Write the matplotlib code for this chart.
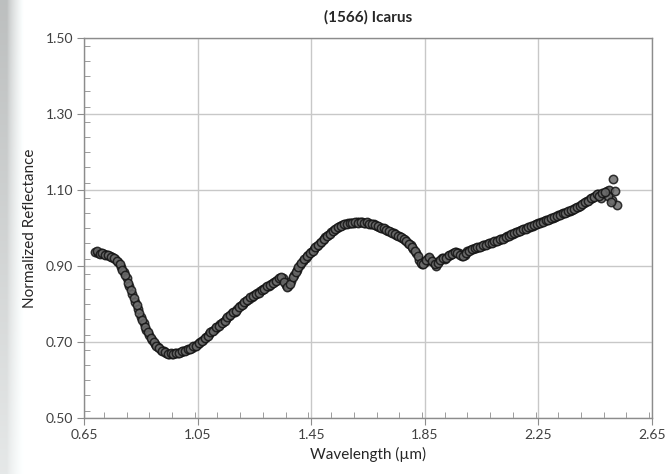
import matplotlib
matplotlib.use("Agg")
import matplotlib.pyplot as plt
import numpy as np
from matplotlib.ticker import MultipleLocator

plt.rcParams['font.family'] = ['Lato', 'DejaVu Sans']

# spectrum samples, on two interleaved grids
wavelength_a = [
    0.69, 0.70, 0.71, 0.72, 0.73, 0.74, 0.75, 0.76, 0.77, 0.78,
    0.79, 0.80, 0.81, 0.82, 0.83, 0.84, 0.85, 0.86, 0.87, 0.88,
    0.89, 0.90, 0.91, 0.92, 0.93, 0.94, 0.95, 0.96, 0.97, 0.98,
    0.99, 1.00, 1.01, 1.02, 1.03, 1.04, 1.05, 1.06, 1.07, 1.08,
    1.09, 1.10, 1.11, 1.12, 1.13, 1.14, 1.15, 1.16, 1.17, 1.18,
    1.19, 1.20, 1.21, 1.22, 1.23, 1.24, 1.25, 1.26, 1.27, 1.28,
    1.29, 1.30, 1.31, 1.32, 1.33, 1.34, 1.35, 1.36, 1.37, 1.38,
    1.39, 1.40, 1.41, 1.42, 1.43, 1.44, 1.45, 1.46, 1.47, 1.48,
    1.49, 1.50, 1.51, 1.52, 1.53, 1.54, 1.55, 1.56, 1.57, 1.58,
    1.59, 1.60, 1.61, 1.62, 1.63, 1.64, 1.65, 1.66, 1.67, 1.68,
    1.69, 1.70, 1.71, 1.72, 1.73, 1.74, 1.75, 1.76, 1.77, 1.78,
    1.79, 1.80, 1.81, 1.82, 1.83, 1.84, 1.85, 1.86, 1.87, 1.88,
    1.89, 1.90, 1.91, 1.92, 1.93, 1.94, 1.95, 1.96, 1.97, 1.98,
    1.99, 2.00, 2.01, 2.02, 2.03, 2.04, 2.05, 2.06, 2.07, 2.08,
    2.09, 2.10, 2.11, 2.12, 2.13, 2.14, 2.15, 2.16, 2.17, 2.18,
    2.19, 2.20, 2.21, 2.22, 2.23, 2.24, 2.25, 2.26, 2.27, 2.28,
    2.29, 2.30, 2.31, 2.32, 2.33, 2.34, 2.35, 2.36, 2.37, 2.38,
    2.39, 2.40, 2.41, 2.42, 2.43, 2.44, 2.45, 2.46, 2.47, 2.48,
    2.49, 2.50, 2.51, 2.52, 2.514, 2.525, 2.495, 2.505,
]
reflectance_a = [
    0.938, 0.936, 0.934, 0.932, 0.930, 0.928, 0.925, 0.918, 0.910, 0.898,
    0.884, 0.868, 0.847, 0.827, 0.807, 0.787, 0.767, 0.750, 0.733, 0.719,
    0.706, 0.696, 0.688, 0.681, 0.676, 0.672, 0.670, 0.669, 0.671, 0.672,
    0.674, 0.677, 0.679, 0.682, 0.686, 0.690, 0.695, 0.701, 0.707, 0.714,
    0.722, 0.729, 0.735, 0.741, 0.748, 0.754, 0.762, 0.769, 0.776, 0.781,
    0.788, 0.795, 0.802, 0.808, 0.814, 0.820, 0.824, 0.829, 0.834, 0.839,
    0.845, 0.849, 0.853, 0.859, 0.865, 0.869, 0.868, 0.851, 0.847, 0.862,
    0.878, 0.890, 0.903, 0.915, 0.923, 0.931, 0.938, 0.946, 0.953, 0.960,
    0.968, 0.976, 0.983, 0.990, 0.996, 1.001, 1.006, 1.009, 1.011, 1.013,
    1.014, 1.015, 1.016, 1.016, 1.016, 1.015, 1.014, 1.012, 1.010, 1.007,
    1.004, 1.001, 0.997, 0.993, 0.990, 0.987, 0.983, 0.979, 0.975, 0.969,
    0.962, 0.955, 0.945, 0.934, 0.917, 0.905, 0.911, 0.922, 0.919, 0.910,
    0.902, 0.913, 0.922, 0.920, 0.926, 0.931, 0.935, 0.938, 0.934, 0.928,
    0.930, 0.939, 0.944, 0.946, 0.949, 0.951, 0.954, 0.957, 0.959, 0.962,
    0.964, 0.966, 0.969, 0.972, 0.975, 0.979, 0.983, 0.986, 0.989, 0.992,
    0.995, 0.998, 1.001, 1.004, 1.007, 1.010, 1.013, 1.016, 1.019, 1.022,
    1.025, 1.028, 1.031, 1.034, 1.037, 1.040, 1.043, 1.046, 1.049, 1.053,
    1.057, 1.061, 1.066, 1.071, 1.076, 1.081, 1.086, 1.090, 1.080, 1.093,
    1.097, 1.101, 1.074, 1.099, 1.129, 1.061, 1.085, 1.068,
]

wavelength_b = [
    0.695, 0.705, 0.715, 0.725, 0.735, 0.745, 0.755, 0.765, 0.775, 0.785,
    0.795, 0.805, 0.815, 0.825, 0.835, 0.845, 0.855, 0.865, 0.875, 0.885,
    0.895, 0.905, 0.915, 0.925, 0.935, 0.945, 0.955, 0.965, 0.975, 0.985,
    0.995, 1.005, 1.015, 1.025, 1.035, 1.045, 1.055, 1.065, 1.075, 1.085,
    1.095, 1.105, 1.115, 1.125, 1.135, 1.145, 1.155, 1.165, 1.175, 1.185,
    1.195, 1.205, 1.215, 1.225, 1.235, 1.245, 1.255, 1.265, 1.275, 1.285,
    1.295, 1.305, 1.315, 1.325, 1.335, 1.345, 1.355, 1.365, 1.375, 1.385,
    1.395, 1.405, 1.415, 1.425, 1.435, 1.445, 1.455, 1.465, 1.475, 1.485,
    1.495, 1.505, 1.515, 1.525, 1.535, 1.545, 1.555, 1.565, 1.575, 1.585,
    1.595, 1.605, 1.615, 1.625, 1.635, 1.645, 1.655, 1.665, 1.675, 1.685,
    1.695, 1.705, 1.715, 1.725, 1.735, 1.745, 1.755, 1.765, 1.775, 1.785,
    1.795, 1.805, 1.815, 1.825, 1.835, 1.845, 1.855, 1.865, 1.875, 1.885,
    1.895, 1.905, 1.915, 1.925, 1.935, 1.945, 1.955, 1.965, 1.975, 1.985,
    1.995, 2.005, 2.015, 2.025, 2.035, 2.045, 2.055, 2.065, 2.075, 2.085,
    2.095, 2.105, 2.115, 2.125, 2.135, 2.145, 2.155, 2.165, 2.175, 2.185,
    2.195, 2.205, 2.215, 2.225, 2.235, 2.245, 2.255, 2.265, 2.275, 2.285,
    2.295, 2.305, 2.315, 2.325, 2.335, 2.345, 2.355, 2.365, 2.375, 2.385,
    2.395, 2.405, 2.415, 2.425, 2.435, 2.445, 2.455, 2.465, 2.475, 2.485,
]
reflectance_b = [
    0.939, 0.933, 0.935, 0.929, 0.931, 0.925, 0.923, 0.913, 0.905, 0.890,
    0.877, 0.857, 0.838, 0.816, 0.798, 0.776, 0.759, 0.740, 0.727, 0.711,
    0.702, 0.691, 0.685, 0.677, 0.675, 0.670, 0.672, 0.668, 0.673, 0.671,
    0.676, 0.676, 0.682, 0.683, 0.689, 0.691, 0.699, 0.703, 0.712, 0.717,
    0.727, 0.731, 0.739, 0.743, 0.752, 0.757, 0.767, 0.771, 0.780, 0.783,
    0.793, 0.797, 0.806, 0.810, 0.818, 0.821, 0.828, 0.830, 0.838, 0.841,
    0.848, 0.850, 0.857, 0.861, 0.868, 0.871, 0.858, 0.846, 0.853, 0.871,
    0.885, 0.898, 0.908, 0.920, 0.926, 0.935, 0.941, 0.950, 0.956, 0.965,
    0.971, 0.980, 0.986, 0.994, 0.998, 1.004, 1.007, 1.011, 1.011, 1.015,
    1.013, 1.017, 1.014, 1.017, 1.014, 1.016, 1.012, 1.012, 1.008, 1.006,
    1.002, 1.000, 0.995, 0.992, 0.988, 0.986, 0.980, 0.978, 0.971, 0.966,
    0.958, 0.951, 0.939, 0.927, 0.909, 0.907, 0.916, 0.925, 0.914, 0.906,
    0.908, 0.917, 0.923, 0.922, 0.929, 0.933, 0.937, 0.936, 0.931, 0.927,
    0.935, 0.941, 0.946, 0.947, 0.951, 0.952, 0.956, 0.957, 0.961, 0.962,
    0.966, 0.967, 0.971, 0.973, 0.977, 0.980, 0.985, 0.987, 0.991, 0.993,
    0.997, 0.999, 1.003, 1.005, 1.009, 1.011, 1.015, 1.017, 1.021, 1.023,
    1.027, 1.029, 1.033, 1.035, 1.039, 1.041, 1.045, 1.047, 1.051, 1.055,
    1.059, 1.063, 1.069, 1.073, 1.079, 1.083, 1.089, 1.085, 1.092, 1.096,
]

x_ticks = [0.65, 1.05, 1.45, 1.85, 2.25, 2.65]
y_ticks = [0.50, 0.70, 0.90, 1.10, 1.30, 1.50]

fig = plt.figure(figsize=(6.69, 4.74), dpi=100)

# grey strip down the left edge
strip = fig.add_axes([0, 0, 0.035, 1])
h, w = 200, 40
u = np.linspace(0, 1, w)[None, :]
v = np.linspace(0, 1, h)[:, None]
shade = 0.74 + 0.16 * v
shade = shade + (1 - shade) * np.clip((u - 0.3) / 0.7, 0, 1) ** 0.7
strip.imshow(np.dstack([shade, shade + 0.01, shade + 0.01]).clip(0, 1),
             aspect='auto', extent=[0, 1, 0, 1], origin='upper')
strip.axis('off')

ax = fig.add_axes([84 / 669, 1 - 418.3 / 474, (652 - 84) / 669, (418.3 - 38.3) / 474])

wl = wavelength_a + wavelength_b
refl = reflectance_a + reflectance_b
ax.scatter(wl, refl, s=36, facecolor='#6c6c6c',
           edgecolor='#141414', linewidth=1.1, alpha=0.85, zorder=3)

ax.set_xlim(0.65, 2.65)
ax.set_ylim(0.50, 1.50)
ax.set_xticks(x_ticks)
ax.set_yticks(y_ticks)
ax.set_xticklabels([f"{t:.2f}" for t in x_ticks])
ax.set_yticklabels([f"{t:.2f}" for t in y_ticks])
ax.xaxis.set_minor_locator(MultipleLocator(0.08))
ax.yaxis.set_minor_locator(MultipleLocator(0.04))

ax.grid(True, which='major', color='#c8c8c8', linewidth=1.0, zorder=0)
ax.set_axisbelow(True)
for s in ax.spines.values():
    s.set_color('#8c8c8c')
    s.set_linewidth(1.0)

ax.tick_params(which='major', direction='out', length=5, color='#8c8c8c',
               labelsize=10, labelcolor='#404040', pad=3)
ax.tick_params(which='minor', direction='in', length=4, color='#8c8c8c')

ax.set_title('(1566) Icarus', fontsize=11, fontweight='bold', color='#262626', pad=12)
ax.set_xlabel('Wavelength (µm)', fontsize=11, color='#262626', labelpad=4)
ax.set_ylabel('Normalized Reflectance', fontsize=11, color='#262626', labelpad=6)

plt.savefig('out.png', dpi=100)
